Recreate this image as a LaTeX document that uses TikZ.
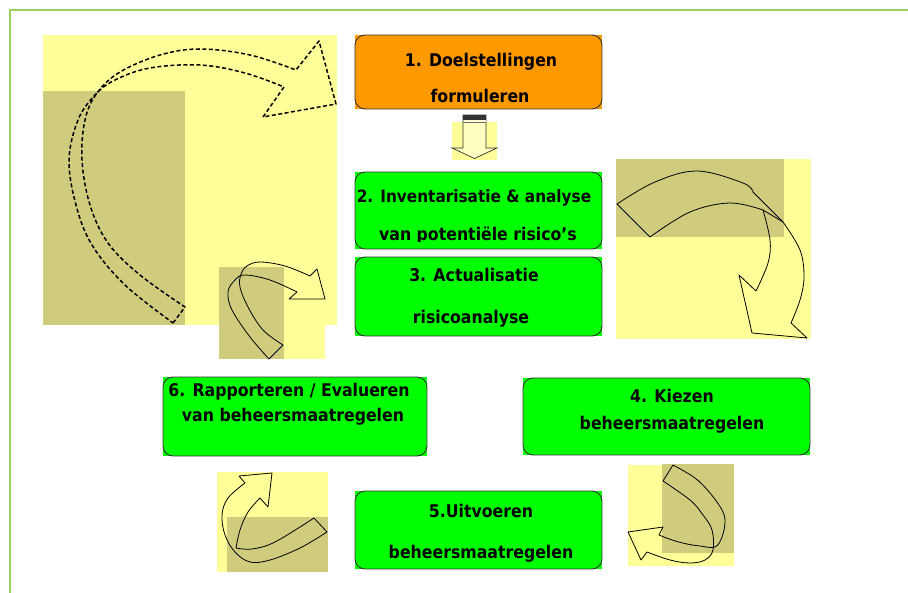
\documentclass[tikz,border=0pt]{standalone}
\usepackage{fontspec}
\setmainfont{DejaVu Sans Condensed}
\usetikzlibrary{backgrounds}

\definecolor{paleyellow}{HTML}{FFFF99}
\definecolor{olivebg}{HTML}{CFCC7E}
\definecolor{boxgreen}{HTML}{00FF00}
\definecolor{boxorange}{HTML}{FF9900}
\definecolor{framegreen}{HTML}{9BCF5F}
\definecolor{edgegray}{HTML}{333333}

\tikzset{
  stepbox/.style={draw=edgegray, line width=0.9pt, rounded corners=10pt,
    inner sep=0pt, minimum width=247pt},
  lbl/.style={anchor=base, inner sep=0pt, font=\fontsize{17.5}{21}\selectfont\bfseries},
  ribbon/.style={draw=black, line width=0.8pt, line join=round},
  dashribbon/.style={draw=black, line width=1.5pt, dash pattern=on 4pt off 2.5pt, line join=round},
  smoothline/.style={smooth, tension=0.6}
}

\begin{document}
\begin{tikzpicture}[x=1pt, y=-1pt]
\useasboundingbox (0,0) rectangle (908,593);

% page frame
\draw[framegreen, line width=2pt] (10,593) -- (10,10) -- (908,10);

% backdrops behind the curved arrows
\fill[paleyellow] (43,35) rectangle (337,325);
\fill[olivebg] (43,91) rectangle (185,325);
\fill[paleyellow] (616,159) rectangle (811,339);
\fill[olivebg] (616,159) rectangle (784,237);
\fill[paleyellow] (219,267) rectangle (325,359);
\fill[olivebg] (219,267) rectangle (284,359);
\fill[paleyellow] (217,472) rectangle (328,572);
\fill[olivebg] (227,517) rectangle (328,572);
\fill[paleyellow] (628,465) rectangle (734,566);
\fill[olivebg] (662,464) rectangle (734,553);
\fill[paleyellow] (452,122) rectangle (497,160);

% process steps
\node[stepbox, minimum height=74pt] (b1) at (478.5,72) {};
\node[stepbox, minimum height=77pt] (b2) at (478.5,210.5) {};
\node[stepbox, minimum height=79pt] (b3) at (478.5,296.5) {};
\node[stepbox, minimum width=264pt, minimum height=79pt] (b6) at (295,416.5) {};
\node[stepbox, minimum width=287pt, minimum height=77pt] (b4) at (666.5,416.5) {};
\node[stepbox, minimum height=78pt] (b5) at (478.5,530) {};

\begin{scope}[on background layer]
  \fill[boxorange] (b1.south west) rectangle (b1.north east);
  \foreach \b in {b2,b3,b4,b5,b6}
    \fill[boxgreen] (\b.south west) rectangle (\b.north east);
\end{scope}

% step labels
\node[lbl] (t1a) at (481,67) {1. Doelstellingen};
\node[lbl] (t1b) at (480,103) {formuleren};
\node[lbl, font=\fontsize{17}{20}\selectfont\bfseries] (t2a) at (474,202.5) {2. Inventarisatie \& analyse};
\begin{scope}
  \clip (355,172) rectangle (602,241.5);
  \node[lbl] (t2b) at (478,241) {van potentiële risico’s};
\end{scope}
\node[lbl] (t3a) at (474,282) {3. Actualisatie};
\node[lbl] (t3b) at (471,324) {risicoanalyse};
\node[lbl] (t6a) at (289,397) {6. Rapporteren / Evalueren};
\node[lbl] (t6b) at (293,422) {van beheersmaatregelen};
\node[lbl] (t4a) at (672,403) {4. Kiezen};
\node[lbl] (t4b) at (672,430) {beheersmaatregelen};
\node[lbl] (t5a) at (481,517) {5.Uitvoeren};
\node[lbl] (t5b) at (481,558) {beheersmaatregelen};

% block arrow from step 1 to step 2
\draw[edgegray, line width=0.7pt, fill=paleyellow!60!white, line join=miter]
  (463,115) -- (486,115) -- (486,148) -- (497,148) -- (474.5,158.5)
  -- (452,148) -- (463,148) -- cycle;
\fill[edgegray] (463,115) rectangle (486,120.5);
\fill[paleyellow!40!white] (463.5,120.5) rectangle (485.5,122);
\draw[edgegray!70, line width=0.5pt] (463,122.3) -- (486,122.3);

% large dashed loop arrow
\draw[dashribbon] (173,323) -- (185,307)
  -- plot[smoothline] coordinates {(185,307) (140,275) (108,243) (90,205) (82,160)
      (85,120) (97,93) (120,72) (160,55) (200,49) (250,55) (296,70)}
  -- (319,41) -- (336,104) -- (263,117) -- (284,87)
  -- plot[smoothline] coordinates {(284,87) (245,73) (200,65) (150,68) (115,80)
      (95,95) (78,120) (69,160) (76,205) (92,245) (125,285) (173,323)}
  -- cycle;

% curved arrow beside step 3
\draw[ribbon] (269,359) -- (283,345)
  -- plot[smoothline] coordinates {(283,345) (263,330) (248,307) (240,287) (241,274)
      (247,266) (260,262) (285,266) (310,276)}
  -- (317,269) -- (325,299) -- (289,299) -- (297,292)
  -- plot[smoothline] coordinates {(297,292) (270,280) (245,275) (235,280) (228,292)
      (232,310) (250,337) (269,359)}
  -- cycle;

% curved arrow towards step 4
\draw[ribbon] (617,204) -- (650,237)
  -- plot[smoothline] coordinates {(650,237) (690,212) (730,203) (763,210)}
  -- plot[smoothline] coordinates {(763,210) (770,240) (768,263) (756,291)}
  -- (739,275) -- (752,333) -- (807,338) -- (791,323)
  -- plot[smoothline] coordinates {(791,323) (800,300) (804,277) (800,250) (783,222)}
  -- (753,192)
  -- plot[smoothline] coordinates {(753,192) (743,183) (697,171) (655,182) (617,204)}
  -- cycle;
\draw[ribbon] (763,210) -- (783,222);

% curved arrow from step 4 towards step 5
\draw[ribbon] (673,465)
  -- plot[smoothline] coordinates {(673,465) (695,478) (710,493) (722,510) (725,522)
      (722,537) (715,547) (700,546) (687,544) (672,540) (659,535)}
  -- (663,527) -- (628,532) -- (641,560) -- (647,552)
  -- plot[smoothline] coordinates {(647,552) (670,560) (690,563) (705,560) (713,550)
      (712,530) (703,515) (690,500) (663,481)}
  -- cycle;

% curved arrow from step 5 towards step 6
\draw[ribbon] (314,518) -- (327,532)
  -- plot[smoothline] coordinates {(327,532) (300,548) (270,560) (250,562) (235,552)
      (225,535) (222,515) (228,498) (245,483)}
  -- (239,476) -- (272,473) -- (268,507) -- (260,498)
  -- plot[smoothline] coordinates {(260,498) (248,512) (240,530) (236,548)}
  -- plot[smoothline] coordinates {(236,548) (252,549) (275,542) (314,518)}
  -- cycle;

\end{tikzpicture}
\end{document}
